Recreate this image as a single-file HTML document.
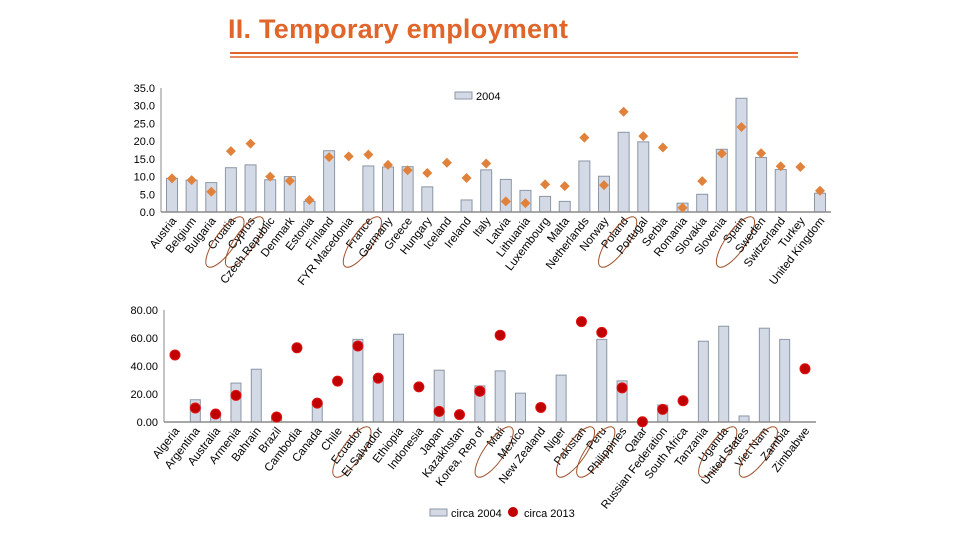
<!DOCTYPE html>
<html><head><meta charset="utf-8">
<style>
html,body{margin:0;padding:0;background:#fff;}
svg{display:block;font-family:"Liberation Sans",sans-serif;}
</style></head>
<body>
<svg id="chart" width="960" height="540" viewBox="0 0 960 540">
<text x="228" y="38" font-size="27" fill="#e0652a" font-weight="bold" textLength="340">II. Temporary employment</text>
<line x1="230" y1="53" x2="798" y2="53" stroke="#e0652a" stroke-width="2"/>
<line x1="230" y1="57" x2="798" y2="57" stroke="#e0652a" stroke-width="1.5"/>
<g id="top"></g>
<g id="bot"></g>
</svg>
<script>
const topCats = ["Austria","Belgium","Bulgaria","Croatia","Cyprus","Czech Republic","Denmark","Estonia","Finland","FYR Macedonia","France","Germany","Greece","Hungary","Iceland","Ireland","Italy","Latvia","Lithuania","Luxembourg","Malta","Netherlands","Norway","Poland","Portugal","Serbia","Romania","Slovakia","Slovenia","Spain","Sweden","Switzerland","Turkey","United Kingdom"];
const top2004 = [9.5,9,8.3,12.5,13.3,9.1,10,3,17.3,null,13,12.7,12.8,7.1,null,3.4,11.9,9.2,6.1,4.4,3,14.4,10.1,22.5,19.8,null,2.5,5,17.7,32.1,15.4,12,null,5.3];
const top2013 = [9.5,9,5.7,17.2,19.3,10,8.8,3.4,15.5,15.7,16.2,13.3,11.8,11,13.9,9.6,13.7,3,2.5,7.8,7.3,21,7.6,28.3,21.4,18.2,1.2,8.7,16.5,24,16.6,12.9,12.7,6];
const topTicks = ["0.0","5.0","10.0","15.0","20.0","25.0","30.0","35.0"];
const topCircled = ["Croatia","Cyprus","France","Poland","Spain"];

const botCats = ["Algeria","Argentina","Australia","Armenia","Bahrain","Brazil","Cambodia","Canada","Chile","Ecuador","El Salvador","Ethiopia","Indonesia","Japan","Kazakhstan","Korea, Rep of","Mali","Mexico","New Zealand","Niger","Pakistan","Peru","Philippines","Qatar","Russian Federation","South Africa","Tanzania","Uganda","United States","Viet Nam","Zambia","Zimbabwe"];
const bot2004 = [null,15.9,6,27.8,37.7,3,null,13.5,null,59,29.5,62.7,null,37,null,25.8,36.5,20.6,null,33.5,null,59,29.4,null,12.1,null,57.7,68.4,4.3,67,59,null];
const bot2013 = [47.9,10,5.7,19,null,3.6,53,13.5,29.2,54.3,31.3,null,25.1,7.6,5.3,22,62,null,10.4,null,71.7,64,24.4,0.2,9,15.2,null,null,null,null,null,38];
const botTicks = ["0.00","20.00","40.00","60.00","80.00"];
const botCircled = ["Ecuador","Mali","Pakistan","Peru","Uganda","Viet Nam"];

const NS="http://www.w3.org/2000/svg";
function mk(parent,tag,attrs){const e=document.createElementNS(NS,tag);for(const k in attrs)e.setAttribute(k,attrs[k]);parent.appendChild(e);return e;}

function drawChart(g,cfg){
  const {cats,bars,marks,ticks,circled,x0,x1,y0,y1,max,bw,markType}=cfg;
  const n=cats.length, step=(x1-x0)/(n-1);
  const xs=i=>x0+i*step;
  const ys=v=>y0-(v/max)*(y0-y1);
  // y axis
  const ya=mk(g,'line',{x1:x0-11,y1:y1,x2:x0-11,y2:y0,stroke:'#8a8a8a','stroke-width':1});
  
  
  ticks.forEach((t,i)=>{
    const v=parseFloat(t);
    const tx=mk(g,'text',{x:x0-17,y:ys(v)+4,'font-size':11,'text-anchor':'end',fill:'#000'});
    tx.textContent=t;
    
    
  });
  cats.forEach((c,i)=>{
    const x=xs(i);
    if(bars[i]!=null){
      const r=mk(g,'rect',{x:x-bw/2,y:ys(bars[i]),width:bw,height:y0-ys(bars[i]),fill:'#d3dae6',stroke:'#8c96a6','stroke-width':1});
      
      
    }
  });
  const xa=mk(g,'line',{x1:x0-11,y1:y0,x2:x1+11,y2:y0,stroke:'#8a8a8a','stroke-width':1.5});
  
  
  cats.forEach((c,i)=>{
    const x=xs(i);
    if(marks[i]!=null){
      const y=ys(marks[i]);
      let m;
      if(markType==='diamond'){
        m=mk(g,'polygon',{points:`${x},${y-5} ${x+5},${y} ${x},${y+5} ${x-5},${y}`,fill:'#e0823c'});
      } else {
        m=mk(g,'circle',{cx:x,cy:y,r:5,fill:'#c00000',stroke:'#e01010','stroke-width':1});
      }
      
      
    }
    const lab=mk(g,'text',{x:x+5,y:y0+9,'font-size':11.5,'text-anchor':'end',transform:`rotate(-52 ${x+5} ${y0+9})`,fill:'#000'});
    lab.textContent=c;
    
    
    if(circled.includes(c)){
      const cx=x-6, cy=y0+30;
      const el=mk(g,'ellipse',{cx:cx,cy:cy,rx:10,ry:30,fill:'none',stroke:'#a0522d','stroke-width':1,transform:`rotate(35 ${cx} ${cy})`});
      
      
    }
  });
}
drawChart(document.getElementById('top'),{cats:topCats,bars:top2004,marks:top2013,ticks:topTicks,circled:topCircled,x0:172,x1:820,y0:212,y1:88,max:35,bw:11,markType:'diamond'});
drawChart(document.getElementById('bot'),{cats:botCats,bars:bot2004,marks:bot2013,ticks:botTicks,circled:botCircled,x0:175,x1:805,y0:422,y1:310,max:80,bw:10,markType:'circle'});
</script>
<g></g>
<svg width="960" height="540" style="position:absolute;left:0;top:0;font-family:'Liberation Sans',sans-serif">
<rect x="455" y="92" width="17" height="7" fill="#d3dae6" stroke="#8c96a6"/>
<text x="476" y="100" font-size="11">2004</text>
<rect x="430" y="509" width="17" height="7" fill="#d3dae6" stroke="#8c96a6"/>
<text x="451" y="517" font-size="11">circa 2004</text>
<circle cx="513" cy="512" r="5" fill="#c00000"/>
<text x="524" y="517" font-size="11">circa 2013</text>
</svg>
</body></html>
